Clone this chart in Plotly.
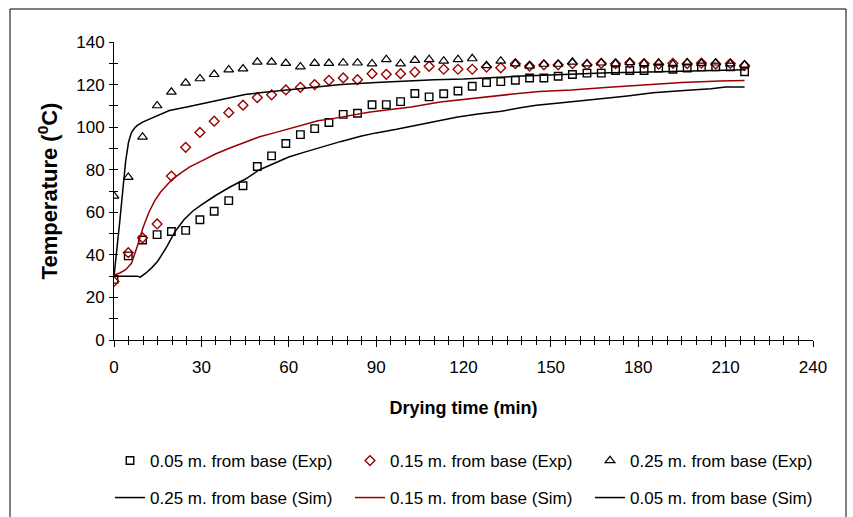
import plotly.graph_objects as go

# Drying time of each experimental reading (min)
t_exp = [0, 4.9, 9.8, 14.8, 19.7, 24.6, 29.5, 34.4, 39.4, 44.3, 49.2, 54.1, 59.0, 64.0, 68.9,
         73.8, 78.7, 83.6, 88.6, 93.5, 98.4, 103.3, 108.2, 113.2, 118.1, 123.0, 127.9, 132.8,
         137.8, 142.7, 147.6, 152.5, 157.4, 162.4, 167.3, 172.2, 177.1, 182.0, 187.0, 191.9,
         196.8, 201.7, 206.6, 211.6, 216.5]

# Measured bed temperatures (deg C)
exp_005 = [28.5, 39.5, 47, 49.5, 51, 51.5, 56.5, 60.5, 65.5, 72.5, 81.5, 86.5, 92.3, 96.5, 99.3,
           102.2, 106, 106.5, 110.5, 110.6, 112, 115.8, 114.2, 115.7, 117, 119.2, 120.9, 121.4,
           122, 123.1, 123.1, 123.9, 124.7, 125.4, 125.4, 126.6, 126.6, 126.6, 127.8, 127.2,
           127.8, 128.3, 128.3, 128.3, 126.0]
exp_015 = [27.5, 41, 48, 54.5, 77, 90.5, 97.5, 102.8, 106.8, 110.3, 113.9, 115.2, 117.5, 118.7,
           120, 122, 123.1, 122.3, 125.1, 124.8, 125.1, 125.9, 128.6, 127.2, 127.2, 127.2, 128.2,
           127.9, 129.8, 128.7, 129.3, 129.3, 129.8, 129.3, 130.0, 129.8, 130.2, 129.9, 129.6,
           130.0, 129.8, 130.1, 129.7, 129.9, 129.0]
exp_025 = [67.7, 76.5, 95.4, 110.1, 116.5, 120.7, 122.8, 124.8, 127, 127.4, 130.6, 130.6, 130,
           128.4, 130, 130, 130.2, 130.2, 129.8, 131.8, 129.8, 131.4, 131.8, 131.1, 131.8, 132.2,
           129, 131.1, 129.8, 128.7, 129.6, 129.6, 130.6, 129.8, 130.2, 129.8, 130.4, 129.9,
           130.1, 129.6, 130.3, 130.0, 130.2, 129.8, 129.2]

# Simulated profiles (min, deg C)
t_sim_025 = [0, 1, 2, 3, 4, 5, 6, 7, 8, 10, 12.5, 15, 19, 25, 30, 35, 40, 45, 50, 55, 60, 70, 78,
             90, 100, 110, 120, 130, 140, 150, 160, 170, 180, 190, 200, 210, 216.5]
sim_025 = [30, 42, 56, 70, 84, 93, 97.5, 99.5, 100.8, 102.5, 104, 105.5, 107.8, 109.5, 111,
           112.3, 113.8, 115.3, 116.2, 116.9, 117.6, 118.8, 120, 121, 121.7, 122.3, 122.6, 123.4,
           124, 124.5, 125.1, 125.5, 125.8, 126.2, 126.5, 126.8, 127]

t_sim_015 = [0, 2, 4, 6, 8, 10, 12, 14, 16, 18, 20, 23, 26, 30, 35, 40, 45, 50, 55, 60, 65, 70,
             75, 80, 88, 95, 102, 112, 122, 136, 146, 157, 170, 185, 195, 208, 216.5]
sim_015 = [30.5, 31.5, 33, 36, 44, 53, 60, 65.5, 69.5, 72.5, 75.5, 78.5, 81.3, 84, 87.5, 90.3,
           93, 95.5, 97.3, 99.2, 101, 103, 104, 105.2, 107.1, 108.3, 109.5, 111.8, 113.4, 115.4,
           116.8, 117.5, 118.8, 120.1, 121, 121.7, 121.9]

t_sim_005 = [0, 5, 8, 9, 11, 13, 15, 18, 21, 24, 27, 30, 35, 40, 45, 50, 55, 60, 66, 72, 78, 85,
             90, 97, 103, 110, 118, 125, 133, 140, 145, 152, 160, 168, 177, 185, 197, 205, 210,
             216.5]
sim_005 = [30, 30, 30, 29.5, 31.5, 34, 37, 43.5, 51, 56.5, 60.5, 63.5, 68, 72, 75.5, 80, 83, 86,
           88.5, 91, 93.3, 95.8, 97.3, 99, 100.6, 102.8, 104.8, 106.2, 107.5, 109.2, 110.3, 111.2,
           112.2, 113.4, 114.8, 116.1, 117.3, 118, 118.9, 118.9]

RED = "#990000"
W, H = 853, 517
L, R, T, B = 114, 40, 42, 177
PW, PH = W - L - R, H - T - B


def px_x(p):
    return (p - L) / PW


def px_y(p):
    return (H - B - p) / PH


narrow = "Liberation Sans Narrow, Arial Narrow, Liberation Sans, sans-serif"
sans = "Liberation Sans, Arial, sans-serif"

fig = go.Figure()
fig.add_trace(go.Scatter(x=t_exp, y=exp_005, mode="markers", name="0.05 m. from base (Exp)",
                         marker=dict(symbol="square-open", size=7.5, color="black",
                                     line=dict(width=1.4, color="black")), legend="legend"))
fig.add_trace(go.Scatter(x=t_exp, y=exp_015, mode="markers", name="0.15 m. from base (Exp)",
                         marker=dict(symbol="diamond-open", size=7.5, color=RED,
                                     line=dict(width=1.4, color=RED)), legend="legend"))
fig.add_trace(go.Scatter(x=t_exp, y=exp_025, mode="markers", name="0.25 m. from base (Exp)",
                         marker=dict(symbol="triangle-up-open", size=8.5, color="black",
                                     line=dict(width=1.2, color="black")), legend="legend"))
fig.add_trace(go.Scatter(x=t_sim_025, y=sim_025, mode="lines", name="0.25 m. from base (Sim)",
                         line=dict(color="black", width=1.5), legend="legend2"))
fig.add_trace(go.Scatter(x=t_sim_015, y=sim_015, mode="lines", name="0.15 m. from base (Sim)",
                         line=dict(color=RED, width=1.5), legend="legend2"))
fig.add_trace(go.Scatter(x=t_sim_005, y=sim_005, mode="lines", name="0.05 m. from base (Sim)",
                         line=dict(color="black", width=1.5), legend="legend2"))

axis_common = dict(showgrid=False, zeroline=False, showline=True, linecolor="black",
                   linewidth=1, tickcolor="black", tickwidth=1, fixedrange=True)

fig.update_layout(
    width=W, height=H,
    margin=dict(l=L, r=R, t=T, b=B, autoexpand=False),
    paper_bgcolor="white", plot_bgcolor="white",
    xaxis=dict(range=[0, 240], tick0=0, dtick=30, ticks="outside", ticklen=6,
               minor=dict(dtick=5, ticks="outside", ticklen=4, tickcolor="black"),
               tickfont=dict(family=narrow, size=17, color="black"),
               ticklabelstandoff=6,
               title=dict(text="<b>Drying time (min)</b>",
                          font=dict(family=narrow, size=18, color="black"), standoff=24),
               automargin=False, **axis_common),
    xaxis2=dict(range=[0, 240], overlaying="x", tick0=0, dtick=5, ticks="inside", ticklen=4,
                showticklabels=False, **axis_common),
    yaxis=dict(range=[0, 140], tick0=0, dtick=20, ticks="outside", ticklen=4,
               minor=dict(dtick=10, ticks="outside", ticklen=4, tickcolor="black"),
               tickfont=dict(family=narrow, size=17, color="black"),
               ticklabelstandoff=1,
               title=dict(text="<b>Temperature (<sup>0</sup>C)</b>",
                          font=dict(family=sans, size=22, color="black"), standoff=12),
               automargin=False, **axis_common),
    yaxis2=dict(range=[0, 140], overlaying="y", tick0=0, dtick=10, ticks="inside", ticklen=4,
                showticklabels=False, **axis_common),
    legend=dict(orientation="h", x=px_x(110), y=px_y(461), xanchor="left", yanchor="middle",
                entrywidth=195, entrywidthmode="pixels",
                font=dict(family=narrow, size=17, color="black"), bgcolor="rgba(0,0,0,0)"),
    legend2=dict(orientation="h", x=px_x(110), y=px_y(498), xanchor="left", yanchor="middle",
                 entrywidth=195, entrywidthmode="pixels",
                 font=dict(family=narrow, size=17, color="black"), bgcolor="rgba(0,0,0,0)"),
    showlegend=True,
    shapes=[dict(type="rect", xref="paper", yref="paper",
                 x0=px_x(10), x1=px_x(846), y0=px_y(530), y1=px_y(9),
                 line=dict(color="black", width=1), fillcolor="rgba(0,0,0,0)", layer="below")],
)

# invisible helper trace ties the inner tick axes to the plot
fig.add_trace(go.Scatter(x=[None], y=[None], xaxis="x2", yaxis="y2", showlegend=False,
                         hoverinfo="skip"))

fig.write_html("out.html")
